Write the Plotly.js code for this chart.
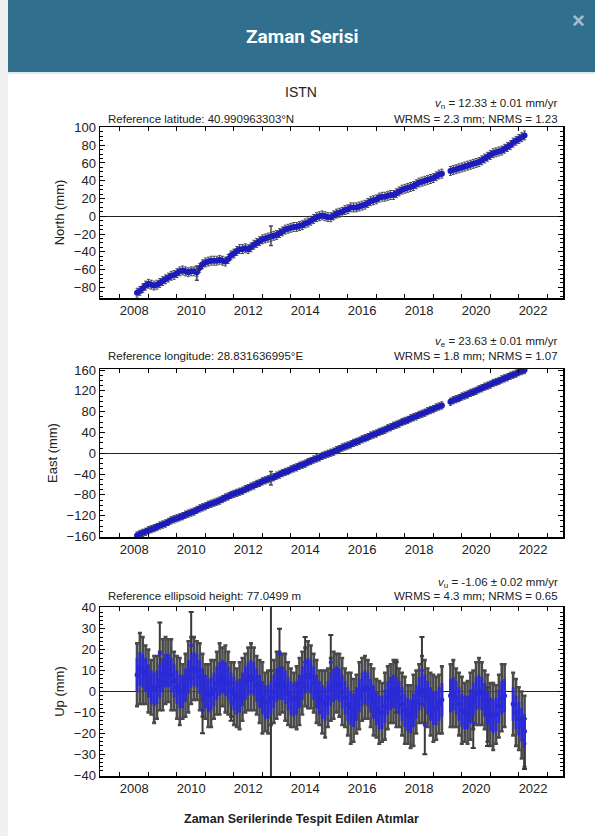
<!DOCTYPE html>
<html>
<head>
<meta charset="utf-8">
<script src="https://cdn.plot.ly/plotly-3.0.1.min.js"></script>
<style>
  html, body { margin: 0; padding: 0; background: #ffffff; }
  #chart { width: 595px; height: 836px; }
</style>
</head>
<body>
<div id="chart"></div>
<script>
// ---------------- DATA ----------------
const stationName = 'ISTN';

// sampling epochs (decimal years) read along the series
const epochs = [
  2008.6,2008.7,2008.8,2008.9,2009.0,2009.1,2009.2,2009.3,2009.4,2009.5,
  2009.6,2009.7,2009.8,2009.9,2010.0,2010.1,2010.2,2010.3,2010.4,2010.5,
  2010.6,2010.7,2010.8,2010.9,2011.0,2011.1,2011.2,2011.3,2011.4,2011.5,
  2011.6,2011.7,2011.8,2011.9,2012.0,2012.1,2012.2,2012.3,2012.4,2012.5,
  2012.6,2012.7,2012.8,2012.9,2013.0,2013.1,2013.2,2013.3,2013.4,2013.5,
  2013.6,2013.7,2013.8,2013.9,2014.0,2014.1,2014.2,2014.3,2014.4,2014.5,
  2014.6,2014.7,2014.8,2014.9,2015.0,2015.1,2015.2,2015.3,2015.4,2015.5,
  2015.6,2015.7,2015.8,2015.9,2016.0,2016.1,2016.2,2016.3,2016.4,2016.5,
  2016.6,2016.7,2016.8,2016.9,2017.0,2017.1,2017.2,2017.3,2017.4,2017.5,
  2017.6,2017.7,2017.8,2017.9,2018.0,2018.1,2018.2,2018.3,2018.4,2018.5,
  2018.6,2018.7,2018.8,2018.9,2019.0,2019.1,2019.2,2019.3,2019.4,2019.5,
  2019.6,2019.7,2019.8,2019.9,2020.0,2020.1,2020.2,2020.3,2020.4,2020.5,
  2020.6,2020.7,2020.8,2020.9,2021.0,2021.1,2021.2,2021.3,2021.4,2021.5,
  2021.6,2021.7,2021.8,2021.9,2022.0,2022.1,2022.2
];

// North component (mm)
const north = [
  -86,-84,-81,-78,-76,-77,-78,-77,-75,-73,
  -71,-69,-67,-66,-64,-62,-61,-62,-63,-62,
  -62,-63,-58,-54,-52,-51,-50,-50,-50,-49,
  -50,-51,-48,-44,-42,-39,-37,-37,-36,-37,
  -35,-32,-30,-28,-26,-25,-24,-23,-22,-21,
  -19,-17,-15,-14,-13,-12,-12,-11,-10,-8,
  -7,-5,-3,-1,0,1,0,-1,-1,1,
  3,4,5,7,8,10,10,10,11,12,
  13,15,17,18,19,21,22,22,23,24,
  24,26,28,30,31,32,33,34,36,38,
  39,40,41,42,43,45,47,48,null,null,
  51,52,53,54,55,56,57,58,59,60,
  61,63,65,67,69,71,72,73,74,76,
  78,80,83,85,87,89,91
];
const northSigma = 5;
const northSpikeX = [2010.7, 2013.3];
const northSpikeY = [-64, -22];
const northSpikeErr = [8, 11];

// East component (mm)
const east = [
  -158,-155,-153,-151,-148,-146,-144,-142,-139,-137,
  -135,-132,-129,-127,-125,-123,-121,-118,-116,-114,
  -112,-109,-106,-104,-102,-99,-97,-95,-93,-91,
  -88,-85,-83,-80,-78,-76,-74,-72,-69,-67,
  -64,-62,-59,-57,-54,-52,-50,-48,-46,-43,
  -41,-38,-36,-34,-31,-29,-27,-24,-22,-20,
  -17,-15,-12,-10,-8,-5,-3,-1,1,3,
  6,8,11,13,15,17,20,22,24,27,
  29,31,34,36,38,41,43,45,48,50,
  53,55,57,60,62,64,67,69,71,74,
  76,78,81,83,85,88,90,92,null,null,
  99,102,104,106,109,111,113,116,118,120,
  123,125,128,130,132,135,137,139,142,144,
  146,149,151,153,156,158,160
];
const eastSigma = 7;
const eastSpikeX = [2013.3];
const eastSpikeY = [-48];
const eastSpikeErr = [13];

// Up component (mm)
const up = [
  8,11,10,8,5,2,1,2,5,8,
  10,10,8,5,2,0,0,3,7,10,
  11,10,7,3,0,-2,-1,1,4,6,
  7,6,4,1,-1,-3,-2,1,4,6,
  7,6,3,0,-3,-5,-5,-3,0,3,
  4,4,2,-1,-3,-4,-3,0,4,7,
  8,7,4,0,-3,-5,-6,-3,1,3,
  4,3,0,-3,-6,-8,-9,-6,-2,1,
  2,1,-2,-5,-8,-10,-10,-7,-3,-1,
  0,-1,-3,-6,-9,-11,-12,-9,-5,-1,
  1,0,-3,-6,-8,-8,-6,-4,null,null,
  -2,-1,-3,-6,-9,-10,-10,-7,-4,-1,
  0,-1,-4,-8,-11,-12,-11,-7,-3,-2,
  null,null,-6,-10,-13,-16,-19
];
// envelope of error bars around the Up series (mm)
const upErr = [
  15,17,16,14,15,13,16,15,14,17,
  16,15,17,14,15,16,13,15,17,16,
  15,14,16,15,13,15,16,14,15,17,
  14,16,15,13,15,14,16,15,14,15,
  16,15,14,15,17,14,15,13,15,16,
  15,14,16,15,14,13,15,16,15,14,
  16,15,14,15,13,15,16,14,15,16,
  14,15,16,14,15,17,15,14,16,15,
  15,14,15,16,14,15,14,16,15,14,
  15,16,14,15,16,14,15,17,15,14,
  16,15,14,15,16,15,14,16,null,null,
  15,16,14,15,16,14,15,16,14,15,
  16,15,14,16,15,16,14,15,16,15,
  null,null,15,16,15,16,17
];
const upScatter = 8;
const upOutX = [2009.4, 2010.5, 2010.9, 2011.9, 2013.3, 2013.6, 2014.5, 2015.4, 2017.7, 2018.6, 2018.7, 2020.4, 2020.9, 2022.2];
const upOutY = [18, 22, -9, -5, 0, 18, 14, 14, 2, 10, -16, -15, -12, -25];
const upOutErr = [15, 16, 11, 9, 44, 12, 12, 13, 12, 16, 14, 12, 14, 12];

// axis ticks
const yearTicks = [2007,2008,2009,2010,2011,2012,2013,2014,2015,2016,2017,2018,2019,2020,2021,2022,2023];
const yearLabelPos = [2008.5,2010.5,2012.5,2014.5,2016.5,2018.5,2020.5,2022.5];
const yearLabels = ['2008','2010','2012','2014','2016','2018','2020','2022'];

// texts
const refTexts = ['Reference latitude: 40.990963303°N','Reference longitude: 28.831636995°E','Reference ellipsoid height: 77.0499 m'];
const velTexts = ['<i>v</i><sub>n</sub> = 12.33 ± 0.01 mm/yr','<i>v</i><sub>e</sub> = 23.63 ± 0.01 mm/yr','<i>v</i><sub>u</sub> = -1.06 ± 0.02 mm/yr'];
const rmsTexts = ['WRMS = 2.3 mm; NRMS = 1.23','WRMS = 1.8 mm; NRMS = 1.07','WRMS = 4.3 mm; NRMS = 0.65'];
const yTitles = ['North (mm)','East (mm)','Up (mm)'];

// ---------------- LAYOUT HELPERS ----------------
const W = 595, H = 836;
const px = v => v / W;
const py = v => 1 - v / H;
const FONT = 'Liberation Sans, Arial, Helvetica, sans-serif';
const BLUE = '#1c1cbc';
const BLUE_U = '#2a2ad8';
const GRAY = '#4a4a4a';

const xDom = [px(100), px(563)];
const xRange = [2007.3, 2023.55];
const panels = [
  {top: 127, bottom: 298, range: [-92, 100.5], dtick: 20, minor: 5},
  {top: 369, bottom: 537, range: [-161, 162], dtick: 40, minor: 10},
  {top: 607, bottom: 776, range: [-40.4, 40.4], dtick: 10, minor: 2}
];

function xAxis(anchor) {
  return {
    domain: xDom, anchor: anchor, range: xRange,
    showline: true, linecolor: '#000', linewidth: 1.5, mirror: 'ticks',
    ticks: 'inside', ticklen: 0, tickcolor: '#000',
    tickmode: 'array', tickvals: yearLabelPos, ticktext: yearLabels,
    tickfont: {family: FONT, size: 13, color: '#222'},
    minor: {tickmode: 'array', tickvals: yearTicks, ticks: 'inside', ticklen: 4, tickcolor: '#000', tickwidth: 1, showgrid: false},
    showgrid: false, zeroline: false, fixedrange: true
  };
}
function yAxis(anchor, p, title) {
  return {
    domain: [py(p.bottom), py(p.top)], anchor: anchor, range: p.range,
    showline: true, linecolor: '#000', linewidth: 1.5, mirror: 'ticks',
    ticks: 'inside', ticklen: 5, tickcolor: '#000', tickwidth: 1,
    tick0: 0, dtick: p.dtick,
    minor: {dtick: p.minor, tick0: 0, ticks: 'inside', ticklen: 3, tickcolor: '#000', tickwidth: 1, showgrid: false},
    tickfont: {family: FONT, size: 13, color: '#222'},
    showgrid: false, zeroline: true, zerolinecolor: '#222', zerolinewidth: 1,
    title: {text: title, font: {family: FONT, size: 13, color: '#222'}, standoff: 6},
    fixedrange: true
  };
}

const traces = [
  // North
  {x: epochs, y: north, xaxis: 'x', yaxis: 'y', type: 'scatter', mode: 'lines+markers', line: {color: BLUE, width: 4},
   marker: {size: 6, color: BLUE}, error_y: {type: 'constant', value: northSigma, color: GRAY, thickness: 1, width: 1.5}, hoverinfo: 'skip'},
  {x: northSpikeX, y: northSpikeY, xaxis: 'x', yaxis: 'y', type: 'scatter', mode: 'markers',
   marker: {size: 4, color: BLUE}, error_y: {type: 'data', array: northSpikeErr, color: GRAY, thickness: 1.5, width: 2}, hoverinfo: 'skip'},
  // East
  {x: epochs, y: east, xaxis: 'x2', yaxis: 'y2', type: 'scatter', mode: 'lines+markers', line: {color: BLUE, width: 4},
   marker: {size: 6, color: BLUE}, error_y: {type: 'constant', value: eastSigma, color: GRAY, thickness: 1, width: 1.5}, hoverinfo: 'skip'},
  {x: eastSpikeX, y: eastSpikeY, xaxis: 'x2', yaxis: 'y2', type: 'scatter', mode: 'markers',
   marker: {size: 4, color: BLUE}, error_y: {type: 'data', array: eastSpikeErr, color: GRAY, thickness: 1.5, width: 2}, hoverinfo: 'skip'},
  // Up: gray error envelope
  {x: epochs, y: up, xaxis: 'x3', yaxis: 'y3', type: 'scatter', mode: 'markers',
   marker: {size: 3, color: GRAY}, error_y: {type: 'data', array: upErr, color: GRAY, thickness: 2.6, width: 2}, hoverinfo: 'skip'},
  {x: upOutX, y: upOutY, xaxis: 'x3', yaxis: 'y3', type: 'scatter', mode: 'markers',
   marker: {size: 4, color: BLUE_U}, error_y: {type: 'data', array: upOutErr, color: '#3a3a3a', thickness: 2, width: 2.5}, hoverinfo: 'skip'},
  // Up: blue scatter band
  {x: epochs, y: up, xaxis: 'x3', yaxis: 'y3', type: 'scatter', mode: 'markers',
   marker: {size: 5, color: BLUE_U}, error_y: {type: 'constant', value: upScatter, color: BLUE_U, thickness: 2.8, width: 0}, hoverinfo: 'skip'}
];

const annFont = {family: FONT, size: 11.5, color: '#222'};
const annotations = [
  {text: 'Zaman Serisi', x: px(302), y: py(36), xref: 'paper', yref: 'paper', xanchor: 'center', yanchor: 'middle', showarrow: false,
   font: {family: 'Roboto, Liberation Sans, Arial, sans-serif', size: 19, color: '#ffffff', weight: 'bold'}},
  {text: '×', x: px(578), y: py(20), xref: 'paper', yref: 'paper', xanchor: 'center', yanchor: 'middle', showarrow: false,
   font: {family: FONT, size: 22, color: '#a9bdc9', weight: 'bold'}},
  {text: stationName, x: px(301), y: py(92), xref: 'paper', yref: 'paper', xanchor: 'center', yanchor: 'middle', showarrow: false,
   font: {family: FONT, size: 14, color: '#222'}},
  {text: 'Zaman Serilerinde Tespit Edilen Atımlar', x: px(301), y: py(819), xref: 'paper', yref: 'paper', xanchor: 'center', yanchor: 'middle', showarrow: false,
   font: {family: FONT, size: 12.5, color: '#222', weight: 'bold'}}
];
const refY = [119, 356, 596];
const velY = [104, 342, 583];
panels.forEach((p, i) => {
  annotations.push({text: refTexts[i], x: px(106), y: py(refY[i]), xref: 'paper', yref: 'paper', xanchor: 'left', yanchor: 'middle', showarrow: false, font: annFont});
  annotations.push({text: rmsTexts[i], x: px(560), y: py(refY[i]), xref: 'paper', yref: 'paper', xanchor: 'right', yanchor: 'middle', showarrow: false, font: annFont});
  annotations.push({text: velTexts[i], x: px(560), y: py(velY[i]), xref: 'paper', yref: 'paper', xanchor: 'right', yanchor: 'middle', showarrow: false, font: annFont});
});

const shapes = [
  {type: 'rect', xref: 'paper', yref: 'paper', x0: 0, x1: px(8), y0: 0, y1: 1, fillcolor: '#f0f0f0', line: {width: 0}, layer: 'below'},
  {type: 'rect', xref: 'paper', yref: 'paper', x0: px(8), x1: 1, y0: py(72), y1: 1, fillcolor: '#306f8e', line: {width: 0}, layer: 'below'},
  {type: 'rect', xref: 'paper', yref: 'paper', x0: px(8), x1: 1, y0: py(74), y1: py(72), fillcolor: '#dcebf0', line: {width: 0}, layer: 'below'}
];

const layout = {
  width: W, height: H,
  margin: {l: 0, r: 0, t: 0, b: 0},
  paper_bgcolor: '#ffffff', plot_bgcolor: '#ffffff',
  showlegend: false,
  font: {family: FONT, color: '#222'},
  xaxis: xAxis('y'), xaxis2: xAxis('y2'), xaxis3: xAxis('y3'),
  yaxis: yAxis('x', panels[0], yTitles[0]),
  yaxis2: yAxis('x2', panels[1], yTitles[1]),
  yaxis3: yAxis('x3', panels[2], yTitles[2]),
  annotations: annotations,
  shapes: shapes
};

Plotly.newPlot('chart', traces, layout, {displayModeBar: false, staticPlot: true});
</script>
</body>
</html>
